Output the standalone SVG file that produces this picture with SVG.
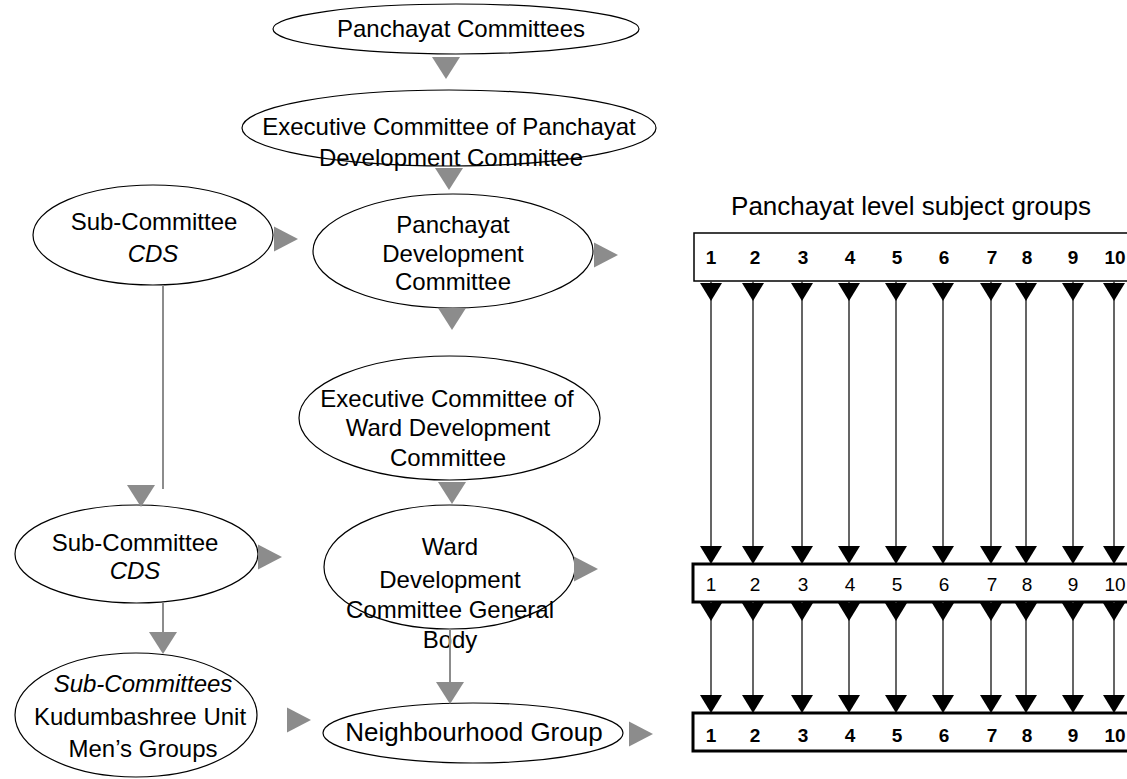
<svg xmlns="http://www.w3.org/2000/svg" xmlns:xlink="http://www.w3.org/1999/xlink" width="1127" height="779" viewBox="0 0 1127 779">
<style>
.bg{fill:#ffffff}
.node ellipse{fill:#ffffff;stroke:#000;stroke-width:1.2}
.t{font-family:"Liberation Sans",Arial,sans-serif;font-size:24px;fill:#000;text-anchor:middle}
.it{font-style:italic}
.ng{font-size:26px}
.gline{stroke:#8c8c8c;stroke-width:2;fill:none}
.garrow{fill:#8c8c8c}
.bline{stroke:#333;stroke-width:1.5;fill:none}
.barrow{fill:#000}
.box1{fill:#fff;stroke:#000;stroke-width:1.5}
.box2{fill:#fff;stroke:#000;stroke-width:3}
.num{font-family:"Liberation Sans",Arial,sans-serif;font-size:19px;font-weight:bold;fill:#000;text-anchor:middle}
.numn{font-weight:normal;font-size:19px}
.title{font-family:"Liberation Sans",Arial,sans-serif;font-size:26px;fill:#000;text-anchor:middle}
</style>
<defs>
<polygon id="gd" points="-14,0 14,0 0,22"/>
<polygon id="gr" points="0,-12.5 0,12.5 24,0"/>
<polygon id="bd" points="-11,0 11,0 0,18"/>
</defs>
<rect class="bg" x="0" y="0" width="1127" height="779"/>

<g id="n-panchayat-committees" class="node">
<ellipse cx="456" cy="29" rx="183" ry="25"/>
<text class="t" x="461" y="37">Panchayat Committees</text>
</g>
<g id="n-exec-pdc" class="node">
<ellipse cx="449" cy="128" rx="207" ry="38"/>
<text class="t" x="449" y="135">Executive Committee of Panchayat</text>
<text class="t" x="451" y="166">Development Committee</text>
</g>
<g id="n-subcds-1" class="node">
<ellipse cx="153" cy="235" rx="120" ry="50"/>
<text class="t" x="154" y="230">Sub-Committee</text>
<text class="t it" x="153" y="262">CDS</text>
</g>
<g id="n-pdc" class="node">
<ellipse cx="453" cy="251" rx="140" ry="57"/>
<text class="t" x="453" y="233">Panchayat</text>
<text class="t" x="453" y="262">Development</text>
<text class="t" x="453" y="290">Committee</text>
</g>
<g id="n-exec-wdc" class="node">
<ellipse cx="449.5" cy="418" rx="150.5" ry="62"/>
<text class="t" x="447" y="407">Executive Committee of</text>
<text class="t" x="448" y="436">Ward Development</text>
<text class="t" x="448" y="466">Committee</text>
</g>
<g id="n-subcds-2" class="node">
<ellipse cx="136.5" cy="554" rx="121.5" ry="49"/>
<text class="t" x="135" y="551">Sub-Committee</text>
<text class="t it" x="135" y="579">CDS</text>
</g>
<g id="n-wdc" class="node">
<ellipse cx="449.5" cy="567" rx="125.5" ry="62"/>
<text class="t" x="450" y="555">Ward</text>
<text class="t" x="450" y="588">Development</text>
<text class="t" x="450" y="618">Committee General</text>
<text class="t" x="450" y="648">Body</text>
</g>
<g id="n-kudumbashree" class="node">
<ellipse cx="136" cy="715" rx="121" ry="62"/>
<text class="t it" x="143" y="692">Sub-Committees</text>
<text class="t" x="140" y="725">Kudumbashree Unit</text>
<text class="t" x="143" y="757">Men’s Groups</text>
</g>
<g id="n-neighbourhood" class="node">
<ellipse cx="473" cy="733" rx="150" ry="30"/>
<text class="t ng" x="474" y="741">Neighbourhood Group</text>
</g>

<g id="n-subject-groups-top">
<text class="title" x="911" y="215">Panchayat level subject groups</text>
<rect class="box1" x="694" y="233" width="460" height="48"/>
<text class="num" x="711" y="264">1</text>
<text class="num" x="755" y="264">2</text>
<text class="num" x="803" y="264">3</text>
<text class="num" x="850" y="264">4</text>
<text class="num" x="897" y="264">5</text>
<text class="num" x="944" y="264">6</text>
<text class="num" x="992" y="264">7</text>
<text class="num" x="1027" y="264">8</text>
<text class="num" x="1073" y="264">9</text>
<text class="num" x="1115" y="264">10</text>
</g>
<g id="n-subject-groups-mid">
<rect class="box2" x="693" y="564" width="460" height="38"/>
<text class="num numn" x="711" y="591">1</text>
<text class="num numn" x="755" y="591">2</text>
<text class="num numn" x="803" y="591">3</text>
<text class="num numn" x="850" y="591">4</text>
<text class="num numn" x="897" y="591">5</text>
<text class="num numn" x="944" y="591">6</text>
<text class="num numn" x="992" y="591">7</text>
<text class="num numn" x="1027" y="591">8</text>
<text class="num numn" x="1073" y="591">9</text>
<text class="num numn" x="1115" y="591">10</text>
</g>
<g id="n-subject-groups-bottom">
<rect class="box2" x="693" y="713" width="460" height="38"/>
<text class="num" x="711" y="742">1</text>
<text class="num" x="755" y="742">2</text>
<text class="num" x="803" y="742">3</text>
<text class="num" x="850" y="742">4</text>
<text class="num" x="897" y="742">5</text>
<text class="num" x="944" y="742">6</text>
<text class="num" x="992" y="742">7</text>
<text class="num" x="1027" y="742">8</text>
<text class="num" x="1073" y="742">9</text>
<text class="num" x="1115" y="742">10</text>
</g>

<g id="connectors">
<g class="garrow">
<use xlink:href="#gd" x="446" y="57"/>
<use xlink:href="#gd" x="449" y="168"/>
<use xlink:href="#gr" x="274" y="239"/>
<use xlink:href="#gr" x="594" y="255"/>
<use xlink:href="#gd" x="452" y="308"/>
<use xlink:href="#gd" x="141" y="485"/>
<use xlink:href="#gd" x="452" y="482"/>
<use xlink:href="#gr" x="258" y="557"/>
<use xlink:href="#gr" x="574" y="569"/>
<use xlink:href="#gd" x="163" y="632"/>
<use xlink:href="#gd" x="450" y="682"/>
<use xlink:href="#gr" x="287" y="720"/>
<use xlink:href="#gr" x="629" y="734"/>
</g>
<line class="gline" x1="163" y1="285" x2="163" y2="489"/>
<line class="gline" x1="163" y1="603" x2="163" y2="633"/>
<line class="gline" x1="450" y1="629" x2="450" y2="683"/>

<g class="bline">
<path d="M711 281V560M711 602V710M753 281V560M753 602V710M802 281V560M802 602V710M849 281V560M849 602V710M896 281V560M896 602V710M943 281V560M943 602V710M991 281V560M991 602V710M1026 281V560M1026 602V710M1073 281V560M1073 602V710M1114 281V560M1114 602V710"/>
</g>
<g class="barrow">
<use xlink:href="#bd" x="711" y="283"/><use xlink:href="#bd" x="711" y="546"/><use xlink:href="#bd" x="711" y="603"/><use xlink:href="#bd" x="711" y="695"/>
<use xlink:href="#bd" x="753" y="283"/><use xlink:href="#bd" x="753" y="546"/><use xlink:href="#bd" x="753" y="603"/><use xlink:href="#bd" x="753" y="695"/>
<use xlink:href="#bd" x="802" y="283"/><use xlink:href="#bd" x="802" y="546"/><use xlink:href="#bd" x="802" y="603"/><use xlink:href="#bd" x="802" y="695"/>
<use xlink:href="#bd" x="849" y="283"/><use xlink:href="#bd" x="849" y="546"/><use xlink:href="#bd" x="849" y="603"/><use xlink:href="#bd" x="849" y="695"/>
<use xlink:href="#bd" x="896" y="283"/><use xlink:href="#bd" x="896" y="546"/><use xlink:href="#bd" x="896" y="603"/><use xlink:href="#bd" x="896" y="695"/>
<use xlink:href="#bd" x="943" y="283"/><use xlink:href="#bd" x="943" y="546"/><use xlink:href="#bd" x="943" y="603"/><use xlink:href="#bd" x="943" y="695"/>
<use xlink:href="#bd" x="991" y="283"/><use xlink:href="#bd" x="991" y="546"/><use xlink:href="#bd" x="991" y="603"/><use xlink:href="#bd" x="991" y="695"/>
<use xlink:href="#bd" x="1026" y="283"/><use xlink:href="#bd" x="1026" y="546"/><use xlink:href="#bd" x="1026" y="603"/><use xlink:href="#bd" x="1026" y="695"/>
<use xlink:href="#bd" x="1073" y="283"/><use xlink:href="#bd" x="1073" y="546"/><use xlink:href="#bd" x="1073" y="603"/><use xlink:href="#bd" x="1073" y="695"/>
<use xlink:href="#bd" x="1114" y="283"/><use xlink:href="#bd" x="1114" y="546"/><use xlink:href="#bd" x="1114" y="603"/><use xlink:href="#bd" x="1114" y="695"/>
</g>
</g>
</svg>
